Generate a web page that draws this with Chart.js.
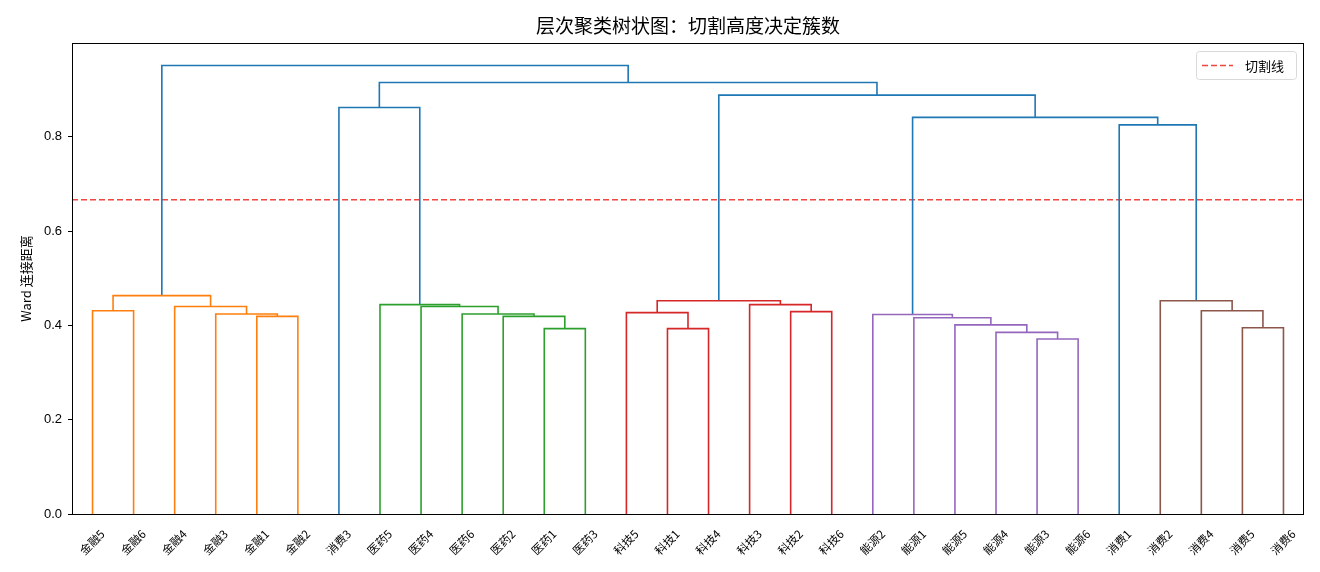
<!DOCTYPE html>
<html>
<head>
<meta charset="utf-8">
<script src="https://cdn.jsdelivr.net/npm/chart.js@4.4.1/dist/chart.umd.min.js"></script>
<style>
  html, body { margin: 0; padding: 0; background: #fff; }
  #wrap { width: 1320px; height: 572px; }
</style>
</head>
<body>
<div id="wrap"><canvas id="dendro" width="1320" height="572"></canvas></div>
<script>
// ---- data ----
const leafLabels = ['金融5','金融6','金融4','金融3','金融1','金融2','消费3','医药5','医药4','医药6','医药2','医药1','医药3',
  '科技5','科技1','科技4','科技3','科技2','科技6','能源2','能源1','能源5','能源4','能源3','能源6',
  '消费1','消费2','消费4','消费5','消费6'];

// merge k creates node 30+k from children (leaf index < 30, else node id)
const mergeLeft   = [4, 3, 2, 0, 33, 11, 10, 9, 8, 7, 6, 14, 13, 17, 16, 42, 23, 22, 21, 20, 19, 28, 27, 26, 25, 50, 45, 40, 34];
const mergeRight  = [5, 30, 31, 1, 32, 12, 35, 36, 37, 38, 39, 15, 41, 18, 43, 44, 24, 46, 47, 48, 49, 29, 51, 52, 53, 54, 55, 56, 57];
const mergeHeight = [0.419, 0.424, 0.440, 0.431, 0.463, 0.393, 0.419, 0.424, 0.440, 0.444, 0.862,
  0.393, 0.427, 0.429, 0.444, 0.452, 0.371, 0.385, 0.401, 0.416, 0.423,
  0.395, 0.431, 0.452, 0.825, 0.841, 0.888, 0.915, 0.951];
const linkColors  = ['C1','C1','C1','C1','C1','C2','C2','C2','C2','C2','C0',
  'C3','C3','C3','C3','C3','C4','C4','C4','C4','C4',
  'C5','C5','C5','C0','C0','C0','C0','C0'];

const cutHeight = 0.666;
const yMax = 0.9986;
const yTicks = [0, 0.2, 0.4, 0.6, 0.8];

const palette = { C0: '#1f77b4', C1: '#ff7f0e', C2: '#2ca02c', C3: '#d62728', C4: '#9467bd', C5: '#8c564b' };
const CUT_COLOR = 'rgba(235, 40, 30, 0.85)';
const CJK = '"Noto Sans CJK SC", "Liberation Sans", "DejaVu Sans", sans-serif';

// ---- build link coordinates in data units (leaf i sits at 10*i+5) ----
const nodeX = leafLabels.map((_, i) => 10 * i + 5);
const nodeH = leafLabels.map(() => 0);
const linkSets = [];
mergeHeight.forEach((h, k) => {
  const a = mergeLeft[k], b = mergeRight[k];
  const xa = nodeX[a], xb = nodeX[b];
  linkSets.push({
    label: '',
    data: [{ x: xa, y: nodeH[a] }, { x: xa, y: h }, { x: xb, y: h }, { x: xb, y: nodeH[b] }],
    borderColor: palette[linkColors[k]],
    borderWidth: 1.6,
    pointRadius: 0,
    tension: 0,
    fill: false
  });
  nodeX.push((xa + xb) / 2);
  nodeH.push(h);
});

const cutSet = {
  label: '切割线',
  data: [{ x: 0, y: cutHeight }, { x: leafLabels.length * 10, y: cutHeight }],
  borderColor: CUT_COLOR,
  borderWidth: 1.5,
  borderDash: [6, 3],
  pointRadius: 0,
  fill: false
};

// frame + title + legend drawn matplotlib style
const decorPlugin = {
  id: 'decor',
  afterDraw(chart) {
    const { ctx, chartArea: a } = chart;
    ctx.save();
    ctx.strokeStyle = '#000';
    ctx.lineWidth = 1;
    ctx.strokeRect(Math.round(a.left) + 0.5, Math.round(a.top) + 0.5,
      Math.round(a.right - a.left) - 1, Math.round(a.bottom - a.top));

    // title
    ctx.fillStyle = '#000';
    ctx.font = '19px ' + CJK;
    ctx.textAlign = 'center';
    ctx.textBaseline = 'middle';
    ctx.fillText('层次聚类树状图：切割高度决定簇数', (a.left + a.right) / 2, 26);

    // legend box
    const bw = 100, bh = 28;
    const bx = a.right - 8 - bw, by = a.top + 8;
    ctx.beginPath();
    ctx.roundRect(bx + 0.5, by + 0.5, bw, bh, 3);
    ctx.fillStyle = 'rgba(255,255,255,0.8)';
    ctx.fill();
    ctx.strokeStyle = '#d9d9d9';
    ctx.stroke();
    ctx.beginPath();
    ctx.setLineDash([6, 3]);
    ctx.strokeStyle = CUT_COLOR;
    ctx.lineWidth = 1.5;
    ctx.moveTo(bx + 6, by + bh / 2 + 0.5);
    ctx.lineTo(bx + 37, by + bh / 2 + 0.5);
    ctx.stroke();
    ctx.setLineDash([]);
    ctx.fillStyle = '#000';
    ctx.font = '13px ' + CJK;
    ctx.textAlign = 'left';
    ctx.fillText(cutSet.label, bx + 49, by + bh / 2 + 1);
    ctx.restore();
  }
};

const chart = new Chart(document.getElementById('dendro'), {
  type: 'line',
  data: { datasets: linkSets.concat([cutSet]) },
  options: {
    responsive: false,
    animation: false,
    layout: { padding: { top: 43, right: 16, left: 0, bottom: 0 } },
    plugins: {
      legend: { display: false },
      title: { display: false },
      tooltip: { enabled: false }
    },
    scales: {
      x: {
        type: 'linear',
        min: 0,
        max: leafLabels.length * 10,
        grid: { display: false },
        border: { display: false },
        afterFit: s => { s.height = 58; },
        afterBuildTicks: s => { s.ticks = leafLabels.map((_, i) => ({ value: 10 * i + 5 })); },
        ticks: {
          autoSkip: false,
          maxRotation: 45,
          minRotation: 45,
          padding: 5,
          labelOffset: 10,
          color: '#000',
          font: { family: CJK, size: 11.5 },
          callback: (v) => leafLabels[Math.round((v - 5) / 10)]
        }
      },
      y: {
        type: 'linear',
        min: 0,
        max: yMax,
        border: { display: false },
        grid: { display: true, drawOnChartArea: false, drawTicks: true, tickLength: 4, color: '#000' },
        afterFit: s => { s.width = 72; },
        afterBuildTicks: s => { s.ticks = yTicks.map(v => ({ value: v })); },
        ticks: {
          padding: 6,
          color: '#000',
          font: { family: '"Liberation Sans", "DejaVu Sans", sans-serif', size: 13 },
          callback: v => v.toFixed(1)
        },
        title: {
          display: true,
          text: 'Ward 连接距离',
          color: '#000',
          font: { family: CJK, size: 13 },
          padding: { top: 18, bottom: 0 }
        }
      }
    }
  },
  plugins: [decorPlugin]
});
</script>
</body>
</html>
